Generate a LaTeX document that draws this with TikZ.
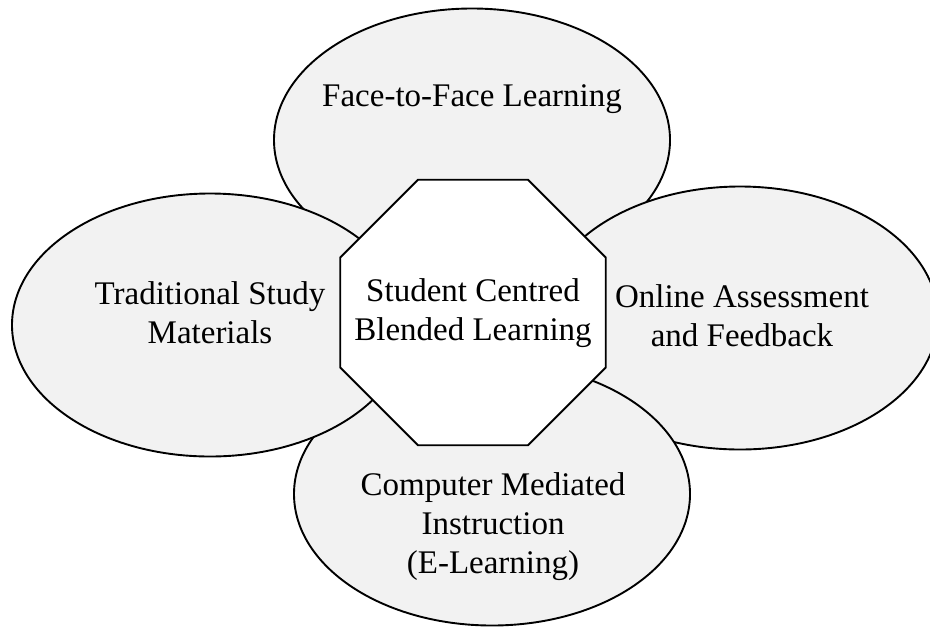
\documentclass[tikz,border=0pt]{standalone}
\usepackage{fontspec}
\setmainfont{Liberation Serif}
\usetikzlibrary{shapes.geometric,positioning}

\begin{document}
\begin{tikzpicture}[x=0.5pt, y=-0.5pt,
    area/.style={ellipse, draw, line width=0.95pt, fill=gray!10,
      minimum width=198pt, minimum height=131.5pt, inner sep=0pt},
    hub/.style={regular polygon, regular polygon sides=8, draw, line width=0.95pt,
      fill=white, minimum size=143.7pt, inner sep=0pt},
    txt/.style={align=center, font=\fontsize{16.5}{19.5}\selectfont}]
  \useasboundingbox (0,0) rectangle (930,628);
  \clip (0,0) rectangle (930,628);

  % the four ellipses, back to front
  \node[area] (ftf) at (472,140) {};
  \node[area] (online) at (740,318) {};
  \node[area] (cmi) at (492,494) {};
  \node[area] (trad) at (210,325) {};

  % centre
  \node[hub] (scbl) at (473,312.5) {};

  % labels
  \node[txt] at (473,313.5) {Student Centred\\Blended Learning};
  \node[txt] at (472,99.5) {Face-to-Face Learning};
  \node[txt] at (210,313) {Traditional Study\\Materials};
  \node[txt] at (742,316) {Online Assessment\\and Feedback};
  \node[txt] at (493,527) {Computer Mediated\\Instruction\\(E-Learning)};
\end{tikzpicture}
\end{document}
